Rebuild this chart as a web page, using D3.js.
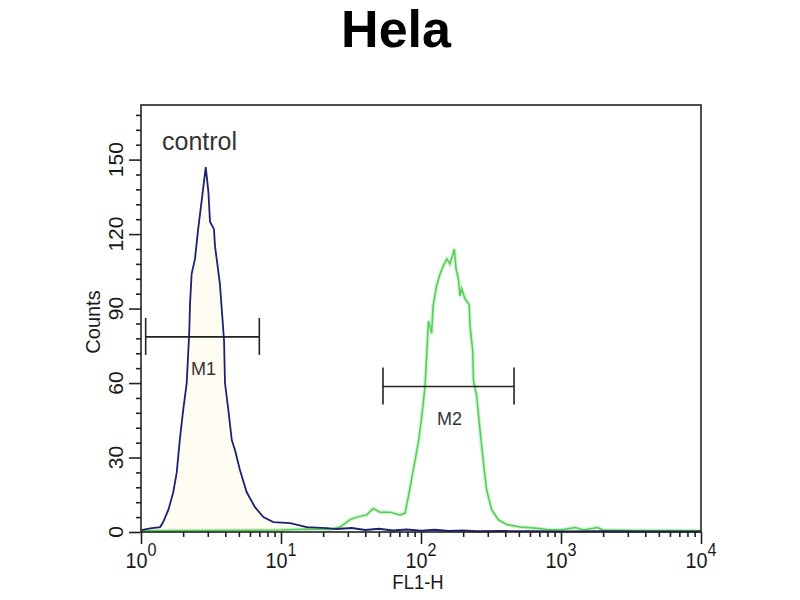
<!DOCTYPE html>
<html>
<head>
<meta charset="utf-8">
<script src="https://cdn.jsdelivr.net/npm/d3@7"></script>
<style>
  body { margin: 0; background: #fff; }
  text { font-family: "Liberation Sans", Arial, sans-serif; fill: #1a1a1a; }
</style>
</head>
<body>
<div id="plot"></div>
<script>
// control histogram (FL1-H value, counts)
var controlFL1 = [1.01, 1.16, 1.37, 1.44, 1.57, 1.70, 1.80, 1.90, 2.00, 2.12, 2.21, 2.24, 2.30, 2.43, 2.56, 2.72,
  2.90, 3.03, 3.11, 3.32, 3.38, 3.51, 3.66, 3.84, 3.92, 3.98, 4.21, 4.45, 4.69, 5.09, 5.69, 6.52, 7.48, 8.81,
  11.6, 15.3, 21.2, 25, 32, 40, 50, 63, 79, 100, 126, 158, 200, 251, 398, 631, 1000, 2000, 4000, 10000];
var controlCounts = [0.8, 1.5, 2, 4, 9, 16, 24, 38, 49, 60, 80, 92, 104, 110, 122, 134,
  147, 137, 125, 122, 115, 108, 100, 84, 77, 60, 49, 37, 33, 25, 16, 10, 6, 4,
  3.6, 2, 1.6, 1.2, 1.6, 0.8, 1.3, 0.6, 1.0, 0.5, 0.9, 0.4, 0.6, 0.3, 0.4, 0.3, 0.2, 0.3, 0.2, 0.2];

// sample histogram (green)
var sampleFL1 = [1.0, 3.16, 10, 15.8, 22.4, 26.4, 31.1, 34.8, 40.9, 45.6, 50.9, 60.1, 70.8, 76.9, 81.1, 88.1,
  95.7, 101, 107, 110, 113, 119, 122, 129, 137, 144, 153, 161, 170, 173, 178, 185, 190, 195, 206, 221,
  224, 234, 237, 250, 264, 279, 294, 320, 356, 409, 509, 670, 794, 1000, 1260, 1450, 1820, 2000, 3160, 10000];
var sampleCounts = [0.5, 0.6, 0.8, 1.2, 1, 2, 5, 6, 6.9, 9.5, 8, 8, 6.9, 7.6, 14, 25,
  36, 46, 59, 72, 85, 80, 91, 99, 104, 107, 110, 108, 112.5, 114, 106, 102, 95, 98, 94, 91.5,
  83, 73, 61, 54.6, 41, 28, 17, 9, 5, 3, 2, 1.5, 1, 0.8, 1.8, 0.8, 1.8, 0.8, 0.6, 0.5];

// gates
var markerNames = ["M1", "M2"];
var markerStart = [1.08, 53.5];
var markerEnd = [7.0, 462];
var markerLevel = [78.6, 58.6];

var yMajorTicks = [0, 30, 60, 90, 120, 150];
var xDecades = [0, 1, 2, 3, 4];

var svgWidth = 800;
var svgHeight = 600;
var frame = { left: 141, right: 701, top: 105, bottom: 532 };

var svg = d3.select("#plot")
  .append("svg")
  .attr("width", svgWidth)
  .attr("height", svgHeight);

var x = d3.scaleLog()
  .domain([1, 10000])
  .range([frame.left, frame.right]);

var y = d3.scaleLinear()
  .domain([0, 172])
  .range([frame.bottom, frame.top]);

// title
svg.append("text")
  .attr("x", 396)
  .attr("y", 47)
  .attr("text-anchor", "middle")
  .style("font-size", "52px")
  .style("font-weight", "bold")
  .style("fill", "#000")
  .text("Hela");

// histograms
var line = d3.line()
  .x(d => x(d[0]))
  .y(d => y(d[1]));

var area = d3.area()
  .x(d => x(d[0]))
  .y0(y(0))
  .y1(d => y(d[1]));

var controlData = controlFL1.map((v, i) => [v, controlCounts[i]]);
var sampleData = sampleFL1.map((v, i) => [v, sampleCounts[i]]);

// faint tint under the control peak
svg.append("path")
  .datum(controlData.filter(d => d[0] < 12))
  .attr("d", area)
  .attr("fill", "#fffdf1");

svg.append("path")
  .datum(sampleData)
  .attr("d", line)
  .attr("fill", "none")
  .attr("stroke", "#d2f3d2")
  .attr("stroke-width", 4);

svg.append("path")
  .datum(sampleData)
  .attr("d", line)
  .attr("fill", "none")
  .attr("stroke", "#55cc55")
  .attr("stroke-width", 1.5);

svg.append("path")
  .datum(controlData)
  .attr("d", line)
  .attr("fill", "none")
  .attr("stroke", "#1c2270")
  .attr("stroke-width", 1.8);

// frame
svg.append("rect")
  .attr("x", frame.left)
  .attr("y", frame.top)
  .attr("width", frame.right - frame.left)
  .attr("height", frame.bottom - frame.top)
  .attr("fill", "none")
  .attr("stroke", "#222")
  .attr("stroke-width", 1.6);

// y axis ticks (minor every 6)
var yAxis = d3.axisLeft(y)
  .tickValues(d3.range(0, 172, 6))
  .tickSize(5)
  .tickFormat("");

svg.append("g")
  .attr("transform", `translate(${frame.left},0)`)
  .call(yAxis)
  .call(g => g.select(".domain").remove())
  .call(g => g.selectAll(".tick line")
    .attr("stroke", "#222")
    .attr("stroke-width", 1.6)
    .attr("x2", d => yMajorTicks.includes(d) ? -12 : -5));

yMajorTicks.forEach(t => {
  svg.append("text")
    .attr("transform", `translate(123,${y(t)}) rotate(-90)`)
    .attr("text-anchor", "middle")
    .style("font-size", "21px")
    .text(t);
});

// x axis ticks (log minor ticks)
var xAxis = d3.axisBottom(x)
  .tickValues(x.ticks())
  .tickSize(5)
  .tickFormat("");

svg.append("g")
  .attr("transform", `translate(0,${frame.bottom})`)
  .call(xAxis)
  .call(g => g.select(".domain").remove())
  .call(g => g.selectAll(".tick line")
    .attr("stroke", "#222")
    .attr("stroke-width", 1.6)
    .attr("y2", d => Number.isInteger(Math.log10(d)) ? 12 : 5));

xDecades.forEach(p => {
  var lab = svg.append("text")
    .attr("transform", `translate(${x(Math.pow(10, p))},568) scale(0.9,1)`)
    .attr("text-anchor", "middle")
    .style("font-size", "22px");
  lab.append("tspan").text("10");
  lab.append("tspan")
    .attr("dy", -12)
    .style("font-size", "18px")
    .text(p);
});

// axis titles
svg.append("text")
  .attr("transform", "translate(100,322) rotate(-90)")
  .attr("text-anchor", "middle")
  .style("font-size", "20px")
  .text("Counts");

svg.append("text")
  .attr("transform", "translate(418,589) scale(0.88,1)")
  .attr("text-anchor", "middle")
  .style("font-size", "21px")
  .text("FL1-H");

svg.append("text")
  .attr("x", 162)
  .attr("y", 150)
  .style("font-size", "25px")
  .style("fill", "#333")
  .text("control");

// gate markers
markerNames.forEach((name, i) => {
  var g = svg.append("g")
    .attr("stroke", "#222")
    .attr("stroke-width", 1.6);
  var x0 = x(markerStart[i]);
  var x1 = x(markerEnd[i]);
  var yy = y(markerLevel[i]);
  g.append("line")
    .attr("x1", x0).attr("x2", x1)
    .attr("y1", yy).attr("y2", yy);
  [x0, x1].forEach(px => {
    g.append("line")
      .attr("x1", px).attr("x2", px)
      .attr("y1", yy - 19).attr("y2", yy + 18);
  });
  svg.append("text")
    .attr("x", (x0 + x1) / 2 + 1)
    .attr("y", yy + 38)
    .attr("text-anchor", "middle")
    .style("font-size", "18px")
    .style("fill", "#333")
    .text(name);
});
</script>
</body>
</html>
